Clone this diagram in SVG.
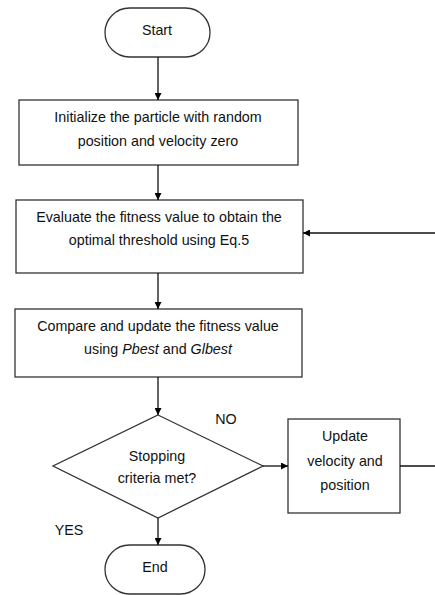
<svg xmlns="http://www.w3.org/2000/svg" width="435" height="595" viewBox="0 0 435 595">
<defs>
<marker id="ah" viewBox="0 0 10 10" refX="10" refY="5" markerWidth="7" markerHeight="7" markerUnits="userSpaceOnUse" orient="auto"><path d="M0,0 L10,5 L0,10 z" fill="#000"/></marker>
<style>
.s{fill:#fff;stroke:#333;stroke-width:1.3}
.t{font-family:"Liberation Sans",Arial,sans-serif;font-size:14.3px;fill:#111;text-anchor:middle}
.c{fill:none;stroke:#111;stroke-width:1.3}
</style>
</defs>
<rect width="435" height="595" fill="#fff"/>
<g id="start"><rect class="s" x="105" y="8" width="105" height="49" rx="24.5"/><text class="t" x="157" y="35">Start</text></g>
<g id="init"><rect class="s" x="19" y="100" width="279" height="65"/><text class="t" x="158" y="122">Initialize the particle with random</text><text class="t" x="158" y="146">position and velocity zero</text></g>
<g id="eval"><rect class="s" x="16" y="200" width="287" height="73"/><text class="t" x="159" y="222">Evaluate the fitness value to obtain the</text><text class="t" x="159" y="245">optimal threshold using Eq.5</text></g>
<g id="compare"><rect class="s" x="15" y="309" width="287" height="68"/><text class="t" x="158" y="331">Compare and update the fitness value</text><text class="t" x="158" y="354">using <tspan font-style="italic">Pbest</tspan> and <tspan font-style="italic">Glbest</tspan></text></g>
<g id="decision"><polygon class="s" points="158,415 263,466 158,518 53,466"/><text class="t" x="157" y="461">Stopping</text><text class="t" x="157" y="483">criteria met?</text></g>
<g id="update"><rect class="s" x="288" y="419" width="112" height="94"/><text class="t" x="345" y="441">Update</text><text class="t" x="345" y="466">velocity and</text><text class="t" x="345" y="490">position</text></g>
<g id="end"><rect class="s" x="105" y="545" width="100" height="49" rx="24.5"/><text class="t" x="155" y="572">End</text></g>
<g id="connectors">
<line class="c" x1="158" y1="57" x2="158" y2="100" marker-end="url(#ah)"/>
<line class="c" x1="158" y1="165" x2="158" y2="200" marker-end="url(#ah)"/>
<line class="c" x1="158" y1="273" x2="158" y2="309" marker-end="url(#ah)"/>
<line class="c" x1="158" y1="377" x2="158" y2="415" marker-end="url(#ah)"/>
<line class="c" x1="263" y1="466" x2="288" y2="466" marker-end="url(#ah)"/>
<polyline class="c" points="400,466 435,466"/>
<line class="c" x1="435" y1="233" x2="303" y2="233" marker-end="url(#ah)"/>
<line class="c" x1="158" y1="518" x2="158" y2="545" marker-end="url(#ah)"/>
<text class="t" x="226" y="424">NO</text>
<text class="t" x="69" y="535">YES</text>
</g>
</svg>
